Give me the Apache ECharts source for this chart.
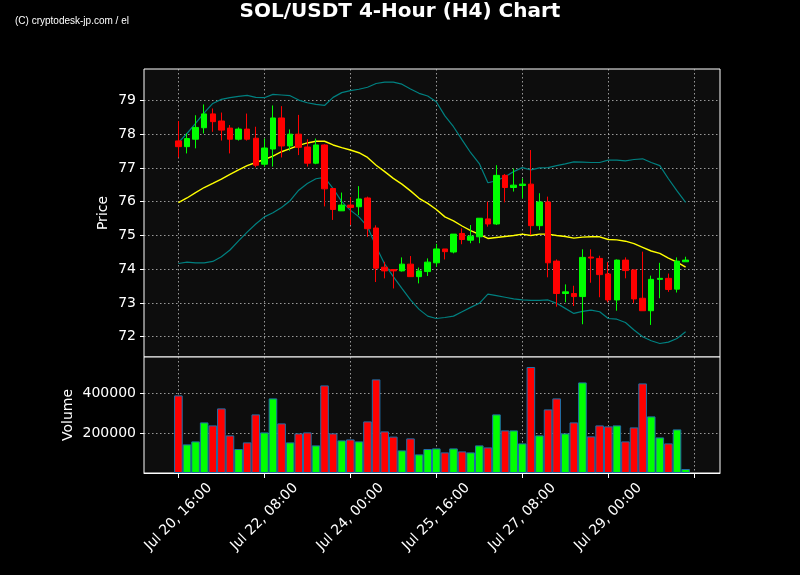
<!DOCTYPE html>
<html>
<head>
<meta charset="utf-8">
<script src="https://cdn.jsdelivr.net/npm/echarts@6/dist/echarts.min.js"></script>
<style>
html,body{margin:0;padding:0;background:#000;}
#main{width:800px;height:575px;}
</style>
</head>
<body>
<div id="main"></div>
<script>
// ---- data ----
const tickLabels = ['Jul 20, 16:00', 'Jul 22, 08:00', 'Jul 24, 00:00', 'Jul 25, 16:00', 'Jul 27, 08:00', 'Jul 29, 00:00', ''];
const priceTicks = [72, 73, 74, 75, 76, 77, 78, 79];
const volumeTicks = [200000, 400000];
const opens  = [77.80,77.63,77.85,78.19,78.60,78.39,78.18,77.85,78.15,77.88,
                77.11,77.56,78.48,77.65,78.00,77.62,77.14,77.68,76.39,75.73,
                75.90,75.85,76.11,75.22,74.06,73.99,73.95,74.15,73.78,73.93,
                74.19,74.60,74.51,75.06,74.86,74.96,75.49,75.34,76.78,76.42,
                76.48,76.52,75.29,75.99,74.24,73.28,73.28,73.19,74.36,74.32,
                73.86,73.09,74.27,73.98,73.14,72.77,73.70,73.73,73.41,74.22];
const closes = [77.63,77.87,78.20,78.60,78.37,78.12,77.85,78.15,77.85,77.08,
                77.59,78.48,77.65,78.00,77.61,77.14,77.68,76.38,75.77,75.90,
                75.83,76.08,75.20,74.03,73.95,73.95,74.15,73.78,73.95,74.21,
                74.60,74.52,75.04,74.88,74.98,75.51,75.34,76.78,76.42,76.49,
                76.52,75.29,75.99,74.19,73.28,73.33,73.19,74.35,74.33,73.84,
                73.09,74.27,73.96,73.12,72.77,73.70,73.73,73.40,74.24,74.27];
const lows   = [77.31,77.43,77.58,78.02,78.07,77.81,77.43,77.81,77.81,77.02,
                77.04,77.04,77.31,77.51,77.38,77.04,77.11,75.86,75.46,75.73,
                75.31,75.60,74.96,73.62,73.73,73.43,73.93,73.78,73.58,73.80,
                74.07,74.29,74.47,74.74,74.77,74.77,75.26,75.31,75.98,76.30,
                76.10,75.01,75.16,73.76,72.89,73.02,72.91,72.37,73.60,73.17,
                73.02,72.77,73.73,72.99,72.77,72.35,73.14,73.33,73.31,74.22];
const highs  = [78.39,78.02,78.56,78.88,78.76,78.64,78.27,78.20,78.61,78.22,
                77.87,78.85,78.83,78.14,78.57,77.85,77.87,77.70,76.40,76.27,
                76.13,76.46,76.15,75.30,74.22,74.00,74.35,74.39,74.05,74.32,
                74.75,74.60,75.04,75.21,75.31,75.51,76.00,77.08,76.82,76.98,
                76.69,77.53,76.25,76.15,74.29,73.55,73.51,74.59,74.59,74.40,
                74.21,74.29,74.35,73.98,74.52,73.81,74.19,73.87,74.35,74.37];
const volumes = [388000,143000,158000,253000,238000,323000,188000,120000,153000,293000,
                 203000,373000,248000,153000,198000,203000,138000,438000,198000,163000,
                 168000,158000,258000,468000,208000,182000,113000,173000,93000,120000,
                 123000,103000,123000,108000,103000,138000,128000,293000,213000,213000,
                 148000,530000,188000,318000,373000,198000,253000,453000,183000,238000,
                 233000,238000,158000,228000,448000,283000,178000,148000,218000,20000];
const sma20 = [75.97,76.11,76.27,76.42,76.54,76.67,76.81,76.94,77.07,77.16,
               77.25,77.35,77.48,77.57,77.67,77.74,77.79,77.79,77.68,77.60,
               77.53,77.45,77.31,77.08,76.89,76.69,76.52,76.32,76.10,75.95,
               75.77,75.55,75.43,75.28,75.14,75.03,74.91,74.94,74.97,75.00,
               75.04,75.00,75.04,75.04,75.00,74.97,74.92,74.95,74.96,74.96,
               74.88,74.87,74.83,74.76,74.65,74.54,74.47,74.33,74.21,74.06];
const bbUpper = [77.75,78.02,78.32,78.63,78.91,79.03,79.08,79.12,79.15,79.09,
                 79.08,79.18,79.16,79.14,79.01,78.93,78.88,78.85,79.09,79.23,
                 79.29,79.33,79.39,79.50,79.54,79.54,79.48,79.34,79.21,79.13,
                 78.96,78.54,78.22,77.83,77.45,77.13,76.56,76.62,76.74,76.89,
                 77.01,76.94,77.00,77.01,77.07,77.12,77.18,77.17,77.16,77.16,
                 77.23,77.23,77.21,77.25,77.27,77.16,77.07,76.68,76.32,75.98];
const bbLower = [74.17,74.21,74.19,74.19,74.23,74.37,74.57,74.84,75.10,75.34,
                 75.55,75.67,75.83,76.03,76.34,76.54,76.68,76.72,76.39,76.00,
                 75.75,75.55,75.26,74.67,74.15,73.78,73.43,73.09,72.81,72.61,
                 72.54,72.57,72.61,72.74,72.87,72.99,73.26,73.22,73.17,73.12,
                 73.09,73.08,73.08,73.09,72.99,72.84,72.69,72.75,72.79,72.74,
                 72.54,72.52,72.42,72.20,72.00,71.88,71.80,71.84,71.95,72.15];

// ---- build ----
const PAD_L = 4, PAD_R = 4, TICK_STEP = 10;
const N = opens.length;
const total = PAD_L + N + PAD_R;
const cats = Array.from({length: total}, (_, i) => String(i));
const pad = (arr, empty) => [...Array(PAD_L).fill(empty), ...arr, ...Array(PAD_R).fill(empty)];
const isTick = (i) => i >= PAD_L && (i - PAD_L) % TICK_STEP === 0;
const labelFor = (i) => { const k = (i - PAD_L) / TICK_STEP; return tickLabels[k] || ''; };

const UP = '#00ff00', DOWN = '#ff0000';
const candleData = pad(opens.map((o, i) => [o, closes[i], lows[i], highs[i]]), ['-','-','-','-']);
const volData = pad(volumes.map((v, i) => ({
  value: v,
  itemStyle: { color: closes[i] >= opens[i] ? UP : DOWN }
})), '-');

const FONT = 'DejaVu Sans';
const gridLine = { show: true, lineStyle: { color: 'rgba(200,200,200,0.75)', type: [1.5, 2.5], width: 1 } };

const chart = echarts.init(document.getElementById('main'), null, { renderer: 'canvas' });
chart.setOption({
  backgroundColor: '#000000',
  animation: false,
  textStyle: { fontFamily: FONT },
  title: {
    text: 'SOL/USDT 4-Hour (H4) Chart',
    left: 'center', top: 2, padding: 0,
    textStyle: { color: '#ffffff', fontSize: 20, fontWeight: 'bold', fontFamily: FONT }
  },
  graphic: [{
    type: 'text', left: 15, top: 16,
    style: { text: '(C) cryptodesk-jp.com / el', fill: '#ffffff', font: '10px "Liberation Sans"' }
  }],
  grid: [
    { left: 144, top: 69, width: 576, height: 288, show: true, backgroundColor: '#0d0d0d', borderColor: '#ffffff', borderWidth: 1 },
    { left: 144, top: 357, width: 576, height: 116, show: true, backgroundColor: '#0d0d0d', borderColor: '#ffffff', borderWidth: 1 }
  ],
  xAxis: [
    {
      type: 'category', gridIndex: 0, data: cats, boundaryGap: false,
      axisLine: { show: false },
      axisTick: { show: false },
      axisLabel: { show: false },
      splitLine: Object.assign({ interval: (i) => isTick(i) }, gridLine)
    },
    {
      type: 'category', gridIndex: 1, data: cats, boundaryGap: false,
      axisLine: { show: true, lineStyle: { color: '#ffffff', width: 1 } },
      axisTick: { show: true, interval: (i) => isTick(i), length: 5, lineStyle: { color: '#ffffff' } },
      axisLabel: {
        show: true, interval: (i) => isTick(i),
        formatter: (v, i) => labelFor(Number(v)),
        rotate: 45, align: 'center', verticalAlign: 'middle', margin: 44,
        color: '#ffffff', fontSize: 14, fontFamily: FONT
      },
      splitLine: Object.assign({ interval: (i) => isTick(i) }, gridLine)
    }
  ],
  yAxis: [
    {
      type: 'value', gridIndex: 0, min: 71.40, max: 79.93, minInterval: 1, maxInterval: 1,
      name: 'Price', nameLocation: 'middle', nameGap: 34, nameMoveOverlap: false,
      nameTextStyle: { color: '#ffffff', fontSize: 14, fontFamily: FONT },
      axisLine: { show: false },
      axisTick: { show: true, length: 4, customValues: priceTicks, lineStyle: { color: '#ffffff' } },
      axisLabel: { color: '#ffffff', fontSize: 14, margin: 8, fontFamily: FONT, customValues: priceTicks },
      splitLine: gridLine
    },
    {
      type: 'value', gridIndex: 1, min: 0, max: 580000, minInterval: 200000, maxInterval: 200000,
      name: 'Volume', nameLocation: 'middle', nameGap: 69, nameMoveOverlap: false,
      nameTextStyle: { color: '#ffffff', fontSize: 14, fontFamily: FONT },
      axisLine: { show: false },
      axisTick: { show: true, length: 4, customValues: volumeTicks, lineStyle: { color: '#ffffff' } },
      axisLabel: { color: '#ffffff', fontSize: 14, margin: 8, fontFamily: FONT, customValues: volumeTicks,
                   formatter: (v) => String(v) },
      splitLine: gridLine
    }
  ],
  series: [
    {
      name: 'Upper', type: 'line', xAxisIndex: 0, yAxisIndex: 0,
      data: pad(bbUpper, '-'), symbol: 'none', z: 2,
      lineStyle: { color: '#008080', width: 1.2 }
    },
    {
      name: 'Lower', type: 'line', xAxisIndex: 0, yAxisIndex: 0,
      data: pad(bbLower, '-'), symbol: 'none', z: 2,
      lineStyle: { color: '#008080', width: 1.2 }
    },
    {
      name: 'SMA20', type: 'line', xAxisIndex: 0, yAxisIndex: 0,
      data: pad(sma20, '-'), symbol: 'none', z: 3,
      lineStyle: { color: '#ffff00', width: 1.4 }
    },
    {
      name: 'SOL', type: 'candlestick', xAxisIndex: 0, yAxisIndex: 0,
      data: candleData, barWidth: 6, z: 4,
      itemStyle: { color: UP, color0: DOWN, borderColor: UP, borderColor0: DOWN, borderWidth: 1 }
    },
    {
      name: 'Volume', type: 'bar', xAxisIndex: 1, yAxisIndex: 1,
      data: volData, barWidth: 8.6,
      itemStyle: { borderColor: '#1f6fa8', borderWidth: 1 }
    }
  ]
});
</script>
</body>
</html>
